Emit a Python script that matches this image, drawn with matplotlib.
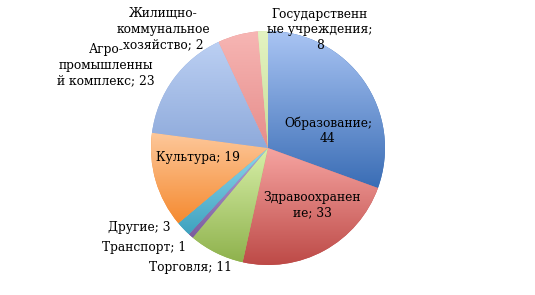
import numpy as np
import matplotlib.pyplot as plt
from matplotlib.colors import LinearSegmentedColormap

plt.rcParams['font.family'] = ['DejaVu Serif']

# data, clockwise from 12 o'clock
labels = ['Образование', 'Здравоохранение', 'Торговля', 'Транспорт', 'Другие',
          'Культура', 'Агропромышленный комплекс', 'Государственные учреждения',
          'Жилищно-коммунальное хозяйство']
values = [44, 33, 11, 1, 3, 19, 23, 8, 2]
label_texts = ['Образование;\n44', 'Здравоохранен\nие; 33', 'Торговля; 11', 'Транспорт; 1',
               'Другие; 3', 'Культура; 19', 'Агро-\nпромышленны\nй комплекс; 23',
               'Государственн\nые учреждения;\n8', 'Жилищно-\nкоммунальное\nхозяйство; 2']

# gradient colours (top, bottom) per slice
tops = ['#aac5f4', '#f6a4a1', '#d8f0a9', '#b9a4da', '#8fd6ec', '#fdc89b', '#bcd0f3', '#f7b6b4', '#e4f3c2']
bottoms = ['#3a6db5', '#bd4a47', '#8fb24d', '#7a5c9e', '#3ea2bf', '#f58a30', '#8eaadb', '#e68d8b', '#c8de99']

# label positions in pixels (x, y from top)
label_pos = [(328, 131), (312, 205), (190, 267), (144, 247), (139, 228),
             (198, 158), (106, 65), (320, 30), (163, 29)]

W, H = 535, 295
fig = plt.figure(figsize=(W / 100, H / 100), dpi=100)
ax = fig.add_axes([0, 0, 1, 1])

cx, cy, r = 268, H - 148, 117
wedges, _ = ax.pie(values, startangle=90, counterclock=False, center=(cx, cy), radius=r,
                   colors=bottoms, wedgeprops=dict(linewidth=0))

grad = np.linspace(0, 1, 256).reshape(-1, 1)
for w, c0, c1 in zip(wedges, tops, bottoms):
    bb = w.get_path().get_extents()
    cmap = LinearSegmentedColormap.from_list('g', [c0, c1])
    im = ax.imshow(grad, cmap=cmap, aspect='auto', origin='upper',
                   extent=(bb.x0, bb.x1, bb.y0, bb.y1), zorder=2)
    im.set_clip_path(w)

for t, (x, y) in zip(label_texts, label_pos):
    ax.text(x, H - y, t, ha='center', va='center', fontsize=8.8, linespacing=1.25,
            color='black', zorder=5)

ax.set_xlim(0, W)
ax.set_ylim(0, H)
ax.set_aspect('equal')
ax.axis('off')

fig.savefig('out.png', dpi=100)
